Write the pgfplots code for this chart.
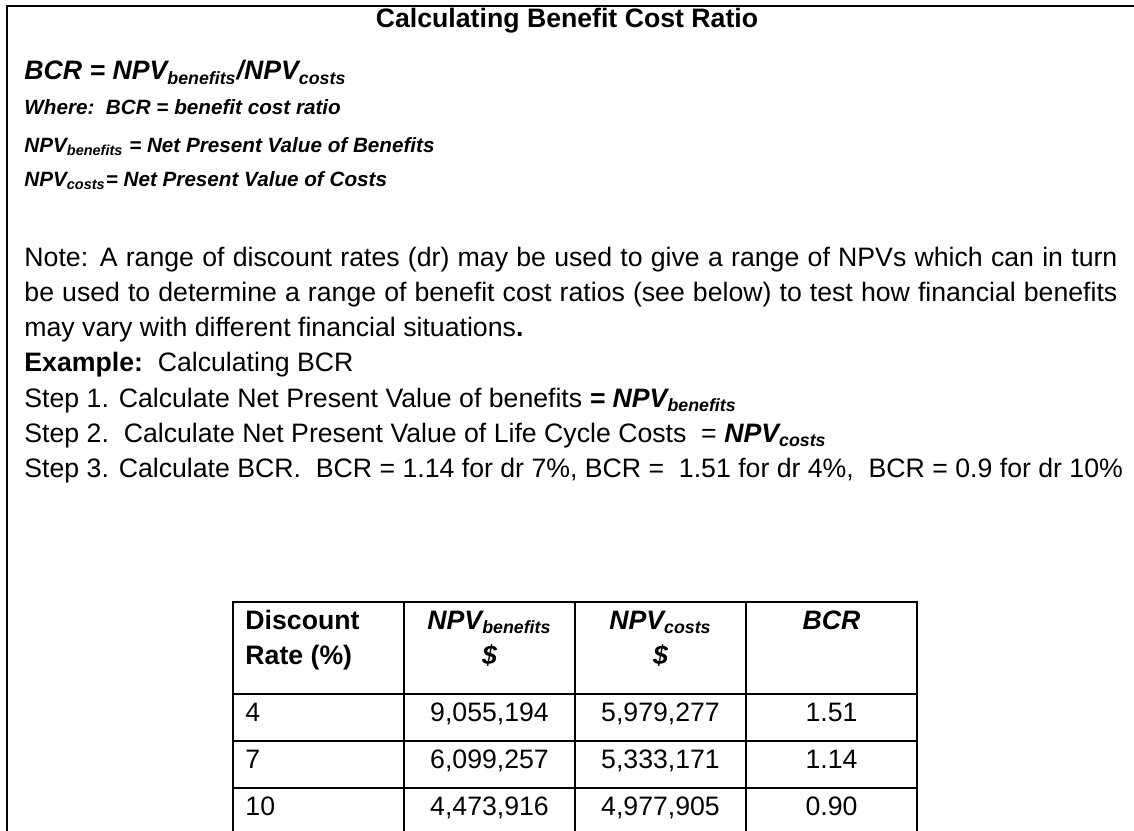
\documentclass[border=0pt]{standalone}
\usepackage{pgfplots}
\pgfplotsset{compat=1.18}
\usepackage{pgfplotstable}
\usepackage{fontspec}
\setmainfont{Liberation Sans}

\pgfplotstableread{
rate benefits costs bcr
4 9,055,194 5,979,277 1.51
7 6,099,257 5,333,171 1.14
10 4,473,916 4,977,905 0.90
}\bcrtable

\newcommand\bodyfont{\fontsize{12}{14}\selectfont}
\newcommand\wherefont{\fontsize{9.3}{11}\selectfont\bfseries\itshape}
\newcommand\tabfont{\fontsize{12}{14}\selectfont}
\newcommand\bi{\bfseries\itshape}
\newcommand\sub[1]{\textsubscript{#1}}

\begin{document}
\begin{tikzpicture}
\useasboundingbox (0,0) rectangle (510.3pt,373.95pt);
\begin{axis}[
  at={(0,0)}, anchor=south west,
  scale only axis, width=510.3pt, height=373.95pt,
  xmin=0, xmax=1134, ymin=0, ymax=831, y dir=reverse,
  hide axis, clip=false,
]
% outer frame (top and left)
\draw[line width=1.3pt] (7,831) -- (7,6) -- (1134,6);

% title and formula block
\node[anchor=base, inner sep=0pt] at (567,28) {\bodyfont\bfseries Calculating Benefit Cost Ratio};
\node[anchor=base west, inner sep=0pt] at (24,80) {\bodyfont\bi BCR = NPV\sub{benefits}/NPV\sub{costs}};
\node[anchor=base west, inner sep=0pt] at (24,115) {\wherefont Where:\ \ BCR = benefit cost ratio};
\node[anchor=base west, inner sep=0pt] at (24,152) {\wherefont NPV\sub{benefits} = Net Present Value of Benefits};
\node[anchor=base west, inner sep=0pt] at (24,187) {\wherefont NPV\sub{costs}= Net Present Value of Costs};

% note
\node[anchor=base west, inner sep=0pt] at (24,266) {\bodyfont\makebox[491.85pt][s]{Note: A range of discount rates (dr) may be used to give a range of NPVs which can in turn}};
\node[anchor=base west, inner sep=0pt] at (24,301) {\bodyfont\makebox[491.85pt][s]{be used to determine a range of benefit cost ratios (see below) to test how financial benefits}};
\node[anchor=base west, inner sep=0pt] at (24,336) {\bodyfont may vary with different financial situations\textbf{.}};
\node[anchor=base west, inner sep=0pt] at (24,371) {\bodyfont\textbf{Example:}\ \ Calculating BCR};
\node[anchor=base west, inner sep=0pt] at (24,407) {\bodyfont Step 1. Calculate Net Present Value of benefits {\bi= NPV\sub{benefits}}};
\node[anchor=base west, inner sep=0pt] at (24,442) {\bodyfont Step 2.\ \ Calculate Net Present Value of Life Cycle Costs\ \ = {\bi NPV\sub{costs}}};
\node[anchor=base west, inner sep=0pt] at (24,477) {\bodyfont Step 3. Calculate BCR.\ \ BCR = 1.14 for dr 7\%, BCR =\ \ 1.51 for dr 4\%,\ \ BCR = 0.9 for dr 10\%};

% table grid
\draw[line width=1.15pt] (233,602) rectangle (917,835);
\draw[line width=1.15pt] (233,694) -- (917,694);
\draw[line width=1.15pt] (233,741) -- (917,741);
\draw[line width=1.15pt] (233,788) -- (917,788);
\draw[line width=1.15pt] (404,602) -- (404,835);
\draw[line width=1.15pt] (575,602) -- (575,835);
\draw[line width=1.15pt] (746,602) -- (746,835);

% table header
\node[anchor=base west, inner sep=0pt] at (245,629) {\tabfont\bfseries Discount};
\node[anchor=base west, inner sep=0pt] at (245,664) {\tabfont\bfseries Rate (\%)};
\node[anchor=base, inner sep=0pt] at (489.5,629) {\tabfont\bi NPV\sub{benefits}};
\node[anchor=base, inner sep=0pt] at (489.5,664) {\tabfont\bi \$};
\node[anchor=base, inner sep=0pt] at (660.5,629) {\tabfont\bi NPV\sub{costs}};
\node[anchor=base, inner sep=0pt] at (660.5,664) {\tabfont\bi \$};
\node[anchor=base, inner sep=0pt] at (831.5,629) {\tabfont\bi BCR};

% table values
\addplot[only marks, mark=none, point meta=explicit symbolic, nodes near coords={\pgfplotspointmeta},
  nodes near coords style={anchor=base west, inner sep=0pt, font=\tabfont, text=black}]
  table[x expr=245, y expr=721+47*\coordindex, meta=rate]{\bcrtable};
\addplot[only marks, mark=none, point meta=explicit symbolic, nodes near coords={\pgfplotspointmeta},
  nodes near coords style={anchor=base, inner sep=0pt, font=\tabfont, text=black}]
  table[x expr=489.5, y expr=721+47*\coordindex, meta=benefits]{\bcrtable};
\addplot[only marks, mark=none, point meta=explicit symbolic, nodes near coords={\pgfplotspointmeta},
  nodes near coords style={anchor=base, inner sep=0pt, font=\tabfont, text=black}]
  table[x expr=660.5, y expr=721+47*\coordindex, meta=costs]{\bcrtable};
\addplot[only marks, mark=none, point meta=explicit symbolic, nodes near coords={\pgfplotspointmeta},
  nodes near coords style={anchor=base, inner sep=0pt, font=\tabfont, text=black}]
  table[x expr=831.5, y expr=721+47*\coordindex, meta=bcr]{\bcrtable};
\end{axis}
\end{tikzpicture}
\end{document}
